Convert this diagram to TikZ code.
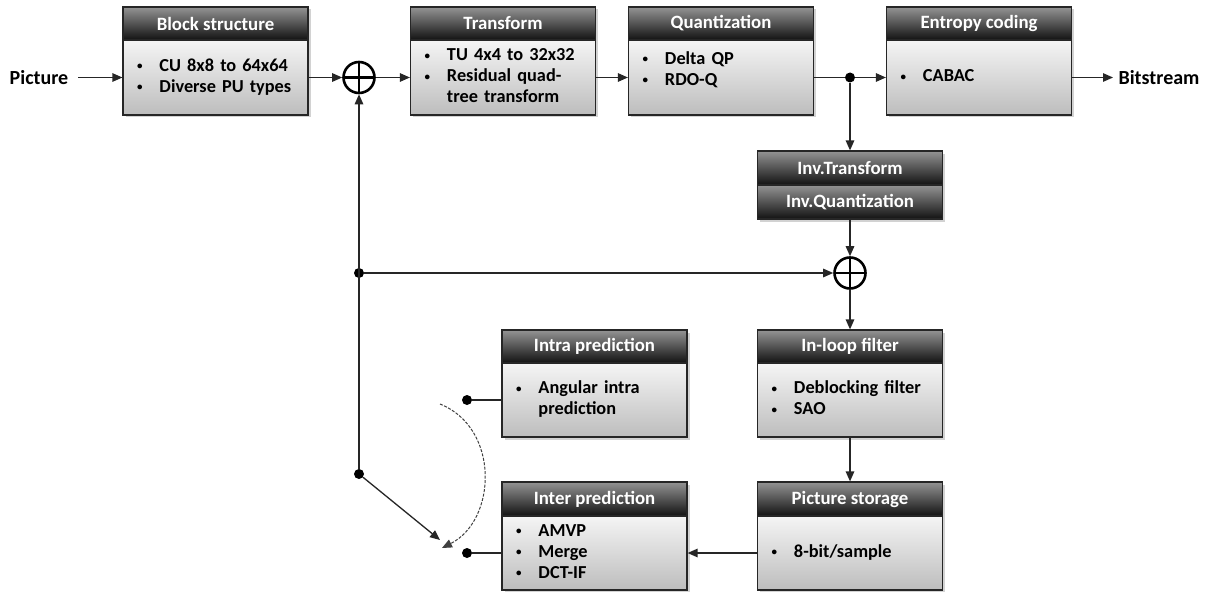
\documentclass[tikz,border=0pt]{standalone}
\usepackage{fontspec}
\setmainfont{Carlito}
\usetikzlibrary{arrows.meta,shadows}
\begin{document}
\begin{tikzpicture}[x=1pt,y=-1pt,
  font=\fontsize{18.3}{21}\selectfont\bfseries,
  shd/.style={drop shadow={shadow xshift=2.5pt,shadow yshift=-2.5pt,opacity=0.35}},
  hdr/.style={shd,draw=black!85,line width=1.2pt,top color=black!42,bottom color=black!93,
    text=white,minimum width=185pt,minimum height=33pt,inner sep=0pt,font=\fontsize{18.8}{21}\selectfont\bfseries},
  bdy/.style={shd,draw=black!85,line width=1.2pt,top color=black!4,bottom color=black!26,
    text width=157pt,inner xsep=14pt,inner ysep=0pt,minimum height=75pt,align=left},
  sum/.style={circle,draw,line width=2.6pt,minimum size=31pt,inner sep=0pt,
    path picture={\draw[line width=2.2pt] (path picture bounding box.north) -- (path picture bounding box.south)
      (path picture bounding box.west) -- (path picture bounding box.east);}},
  dot/.style={circle,fill,inner sep=0pt,minimum size=10pt},
  lbl/.style={font=\fontsize{20}{22}\selectfont\bfseries},
  ln/.style={line width=1.3pt,draw=black!85},
  arr/.style={ln,-{Triangle[length=10pt,width=8.5pt]}}]
\newcommand{\bul}{\raisebox{1.5pt}{\fontsize{11}{11}\selectfont\textbullet}}
\newcommand{\blist}[1]{\begin{tabular}{@{}l@{\hspace{17pt}}l@{}}#1\end{tabular}}
\useasboundingbox[fill=white] (0,0) rectangle (1206,591);

% top row
\node[hdr] (bsh) at (215.5,23.5) {Block structure};
\node[bdy] (bs) at (215.5,77.5) {\blist{\bul & CU 8x8 to 64x64\\ \bul & Diverse PU types}};
\node[hdr] (trh) at (503,23.5) {Transform};
\node[bdy] (tr) at (503,77.5) {\blist{\bul & TU 4x4 to 32x32\\ \bul & Residual quad-\\ & tree transform}};
\node[hdr] (quh) at (721,23.5) {Quantization};
\node[bdy] (qu) at (721,77.5) {\blist{\bul & Delta QP\\ \bul & RDO-Q\\[14pt]}};
\node[hdr] (ech) at (979,23.5) {Entropy coding};
\node[bdy] (ec) at (979,77.5) {\blist{\bul & CABAC}};

% inverse
\node[hdr,minimum height=34pt] (invt) at (850,168) {Inv.Transform};
\node[hdr,minimum height=34pt] (invq) at (850,202) {Inv.Quantization};

% lower boxes
\node[hdr] (ilh) at (850,346.5) {In-loop filter};
\node[bdy,minimum height=74pt] (il) at (850,400) {\blist{\bul & Deblocking filter\\ \bul & SAO}};
\node[hdr,minimum height=34pt] (psh) at (850,499) {Picture storage};
\node[bdy,minimum height=74pt] (ps) at (850,553) {\blist{\bul & 8-bit/sample}};
\node[hdr] (iah) at (594.5,346.5) {Intra prediction};
\node[bdy,minimum height=74pt] (ia) at (594.5,400) {\blist{\bul & Angular intra\\ & prediction}};
\node[hdr,minimum height=34pt] (ibh) at (594.5,499) {Inter prediction};
\node[bdy,minimum height=74pt] (ib) at (594.5,553) {\blist{\bul & AMVP\\ \bul & Merge\\ \bul & DCT-IF}};

% labels
\node[lbl] (pic) at (39,77.5) {Picture};
\node[lbl] (bst) at (1159,77.5) {Bitstream};
\coordinate (pin) at (78,77.5);
\coordinate (bout) at (1113,77.5);

% sums and junctions
\node[sum] (s1) at (359,77.5) {};
\node[sum] (s2) at (850,273) {};
\node[dot] (j1) at (850,77.5) {};
\node[dot] (j2) at (359,273) {};
\node[dot] (j3) at (359,474) {};
\node[dot] (di) at (467,400) {};
\node[dot] (de) at (467,553) {};
\coordinate (mx) at (440,540);
\coordinate (ms) at (440,404);
\coordinate (me) at (442,548);

% connectors
\draw[arr] (pin) -- (bs.west);
\draw[arr] (bs.east) -- (s1.west);
\draw[arr] (s1.east) -- (tr.west);
\draw[arr] (tr.east) -- (qu.west);
\draw[ln] (qu.east) -- (j1);
\draw[arr] (j1) -- (ec.west);
\draw[arr] (ec.east) -- (bout);
\draw[arr] (j1) -- (invt.north);
\draw[arr] (invq.south) -- (s2.north);
\draw[arr] (s2.south) -- (ilh.north);
\draw[arr] (il.south) -- (psh.north);
\draw[arr] (ps.west) -- (ib.east);
\draw[arr] (j3) -- (s1.south);
\draw[arr] (j2) -- (s2.west);
\draw[arr] (j3) -- (mx);
\draw[ln] (di) -- (ia.west);
\draw[ln] (de) -- (ib.west);
\draw[line width=1pt,draw=black!75,dash pattern=on 3pt off 1.5pt,-{Triangle[length=10pt,width=8.5pt]}]
  (ms) .. controls (500,428) and (497,520) .. (me);
\end{tikzpicture}
\end{document}
